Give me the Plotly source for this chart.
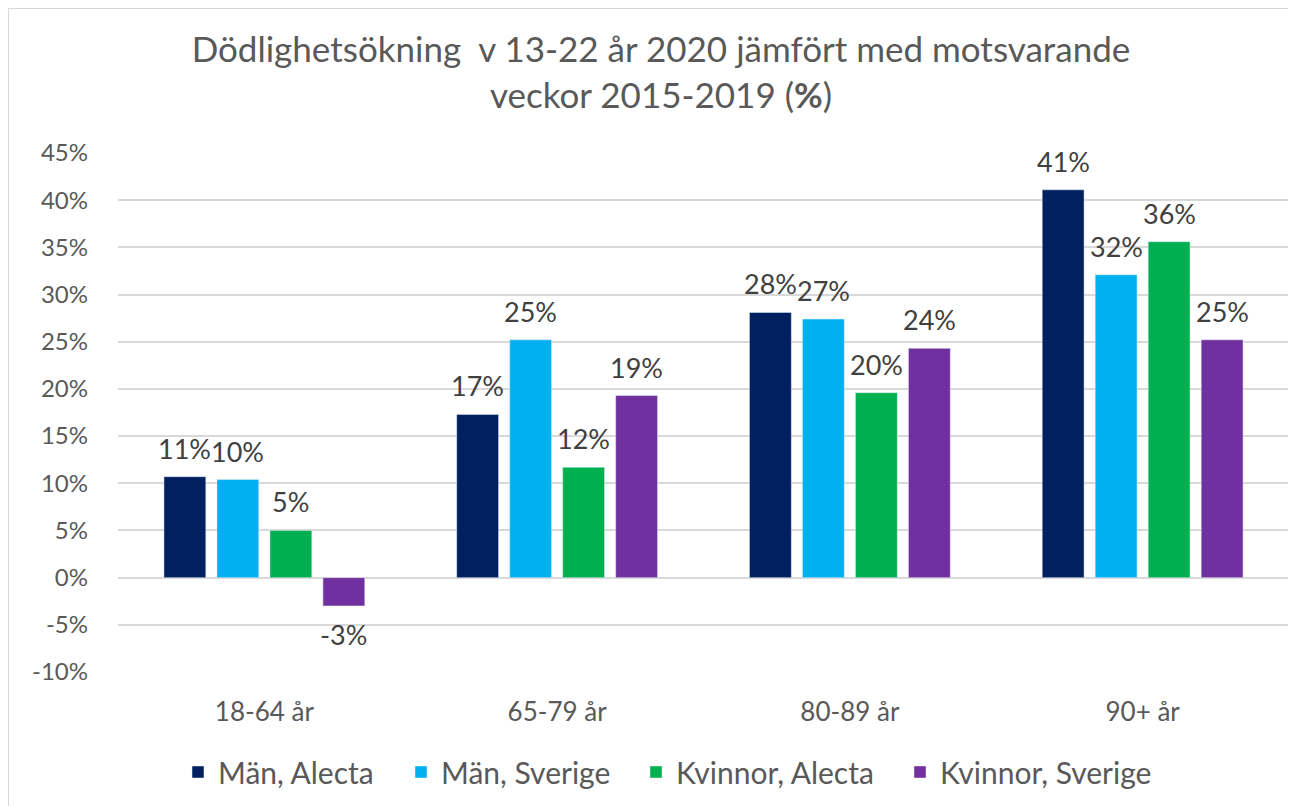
import plotly.graph_objects as go

categories = ["18-64 år", "65-79 år", "80-89 år", "90+ år"]
series_names = ["Män, Alecta", "Män, Sverige", "Kvinnor, Alecta", "Kvinnor, Sverige"]
man_alecta = [10.7, 17.3, 28.1, 41.1]
man_sverige = [10.4, 25.2, 27.4, 32.1]
kvinnor_alecta = [5.0, 11.7, 19.6, 35.6]
kvinnor_sverige = [-3.0, 19.3, 24.3, 25.2]
colors = ["#002060", "#00B0F0", "#00B050", "#7030A0"]
y_ticks = [-10, -5, 0, 5, 10, 15, 20, 25, 30, 35, 40, 45]

FONT = "Lato"
GRAY = "#595959"
OFF = 8  # page body margin

W, H = 1288, 798
L, R, T, B = 110, 7, 145, 134
pw, ph = W - L - R, H - T - B
BARGAP, GROUPGAP = 0.276, 0.21


def px(sx):  # screen x -> paper x
    return (sx - OFF - L) / pw


def py(sy):  # screen y -> paper y
    return (H - B - (sy - OFF)) / ph


all_series = [man_alecta, man_sverige, kvinnor_alecta, kvinnor_sverige]
legend_ids = ["legend", "legend2", "legend3", "legend4"]
legend_starts = [190, 413, 648, 912]  # screen x of legend entries

fig = go.Figure()
for name, vals, col, lid in zip(series_names, all_series, colors, legend_ids):
    fig.add_trace(go.Bar(x=categories, y=vals, name=name, marker_color=col, legend=lid))

slot = pw / len(categories) * (1 - BARGAP) / len(all_series)
annotations = []
for i, vals in enumerate(all_series):
    for cat, v in zip(categories, vals):
        pos = v >= 0
        annotations.append(dict(
            x=cat, y=v, xref="x", yref="y", text=f"{v:.0f}%", showarrow=False,
            xshift=(i - (len(all_series) - 1) / 2) * slot,
            yanchor="bottom" if pos else "top", yshift=10 if pos else -10,
            font=dict(family=FONT, size=27, color="#404040"),
        ))

legend_layout = {}
for lid, sx in zip(legend_ids, legend_starts):
    legend_layout[lid] = dict(
        orientation="h", x=px(sx - 12), xanchor="left", y=py(772), yanchor="middle",
        font=dict(family=FONT, size=30, color=GRAY),
        itemwidth=30, bgcolor="rgba(0,0,0,0)",
    )

fig.update_layout(
    width=W, height=H,
    margin=dict(l=L, r=R, t=T, b=B),
    paper_bgcolor="white", plot_bgcolor="white",
    barmode="group", bargap=BARGAP, bargroupgap=GROUPGAP,
    title=dict(
        text="Dödlighetsökning  v 13-22 år 2020 jämfört med motsvarande<br>veckor 2015-2019 (<b>%</b>)",
        font=dict(family=FONT, size=35, color=GRAY),
        x=(661 - OFF) / W, xanchor="center", xref="container",
        y=1 - 54 / H, yanchor="top", yref="container",
    ),
    font=dict(family=FONT, color=GRAY),
    showlegend=True,
    xaxis=dict(
        showgrid=False, showline=False, ticks="",
        tickfont=dict(family=FONT, size=26, color=GRAY),
        ticklabelstandoff=22,
    ),
    yaxis=dict(
        range=[-10, 45], tickvals=y_ticks,
        ticktext=[f"{v}%" for v in y_ticks],
        tickfont=dict(family=FONT, size=24, color=GRAY),
        gridcolor="#d9d9d9", gridwidth=2,
        zeroline=True, zerolinecolor="#d9d9d9", zerolinewidth=2,
        showline=False, ticks="", ticklabelstandoff=29,
    ),
    annotations=annotations,
    shapes=[dict(
        type="rect", xref="paper", yref="paper",
        x0=px(8), x1=px(1310), y0=py(820), y1=py(8),
        line=dict(color="#d9d9d9", width=2), fillcolor="rgba(0,0,0,0)", layer="below",
    )],
    **legend_layout,
)

fig.write_html("out.html")
